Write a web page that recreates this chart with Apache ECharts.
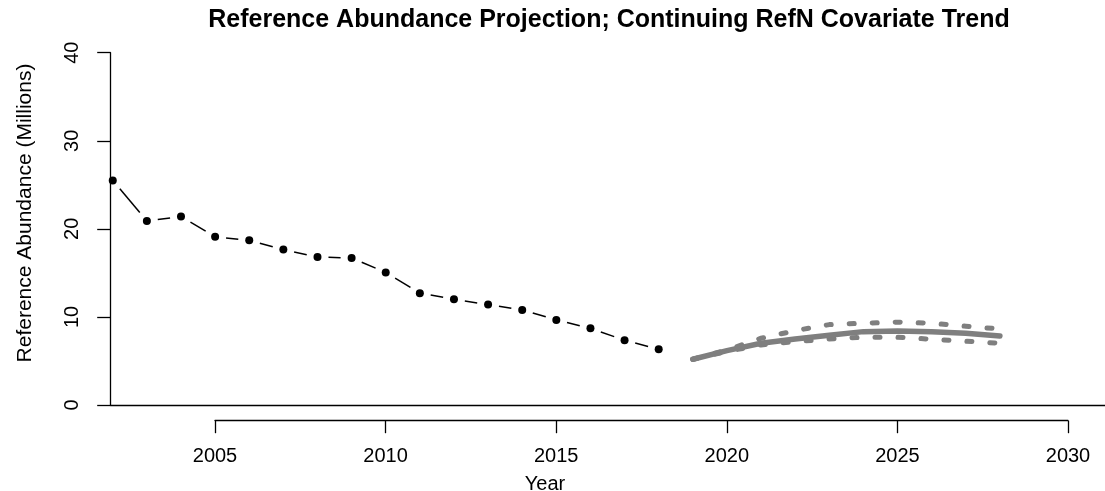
<!DOCTYPE html>
<html>
<head>
<meta charset="utf-8">
<title>Reference Abundance Projection</title>
<script src="https://cdn.jsdelivr.net/npm/echarts@6/dist/echarts.min.js"></script>
<style>
  html, body { margin: 0; padding: 0; background: #fff; }
  #chart { width: 1105px; height: 491px; }
</style>
</head>
<body>
<div id="chart"></div>
<script>
// Observed reference abundance (millions), 2002-2018
const histYears = [2002, 2003, 2004, 2005, 2006, 2007, 2008, 2009, 2010,
                   2011, 2012, 2013, 2014, 2015, 2016, 2017, 2018];
const histValues = [25.5, 20.9, 21.4, 19.1, 18.7, 17.65, 16.8, 16.7, 15.05,
                    12.7, 12.0, 11.4, 10.8, 9.66, 8.7, 7.35, 6.33];

// Projection with continuing RefN covariate trend, 2019-2028
const projYears  = [2019, 2020, 2021, 2022, 2023, 2024, 2025, 2026, 2027, 2028];
const projMedian = [5.19, 6.17, 7.01, 7.50, 7.92, 8.33, 8.41, 8.33, 8.15, 7.84];
const projUpper  = [5.19, 6.25, 7.58, 8.44, 9.13, 9.28, 9.40, 9.28, 8.94, 8.64];
const projLower  = [5.19, 6.08, 6.82, 7.19, 7.50, 7.69, 7.69, 7.47, 7.24, 7.01];

// Axis ticks
const yTicks = [0, 10, 20, 30, 40];
const xTicks = [2005, 2010, 2015, 2020, 2025, 2030];

const FONT = "'Liberation Sans', Arial, Helvetica, sans-serif";
const INK = '#000';
const GREY = '#7f7f7f';

const pairs = (xs, ys) => xs.map((x, i) => [x, ys[i]]);

// Segments between consecutive observations, leaving a gap around each point
const segData = histYears.slice(0, -1).map((y, i) =>
  [y, histValues[i], histYears[i + 1], histValues[i + 1]]);
const GAP = 11;

function renderSegment(params, api) {
  const a = api.coord([api.value(0), api.value(1)]);
  const b = api.coord([api.value(2), api.value(3)]);
  const dx = b[0] - a[0], dy = b[1] - a[1];
  const len = Math.sqrt(dx * dx + dy * dy);
  if (len <= 2 * GAP) return null;
  const ux = dx / len, uy = dy / len;
  return {
    type: 'line',
    shape: {
      x1: a[0] + ux * GAP, y1: a[1] + uy * GAP,
      x2: b[0] - ux * GAP, y2: b[1] - uy * GAP
    },
    style: { stroke: INK, lineWidth: 1.5, fill: null }
  };
}

const chart = echarts.init(document.getElementById('chart'), null, { renderer: 'canvas' });

chart.setOption({
  animation: false,
  backgroundColor: '#fff',
  textStyle: { fontFamily: FONT, color: INK },
  grid: [
    { left: 110.7, right: 0, top: 52.7, height: 352.3 },
    { left: 215, width: 853, top: 419.7, height: 1 }
  ],
  xAxis: [
    {
      gridIndex: 0, type: 'value', min: 2001.94, max: 2031.08,
      axisLine: { show: true, onZero: false, lineStyle: { color: INK, width: 1.3 } },
      axisTick: { show: false }, axisLabel: { show: false }, splitLine: { show: false }
    },
    {
      gridIndex: 1, type: 'value', position: 'bottom',
      min: xTicks[0], max: xTicks[xTicks.length - 1], interval: 5,
      axisLine: { show: true, onZero: false, lineStyle: { color: INK, width: 1.3 } },
      axisTick: { show: true, inside: false, length: 12.5, lineStyle: { color: INK, width: 1.3 } },
      axisLabel: { show: true, margin: 26, fontSize: 20, color: INK, fontFamily: FONT,
                   formatter: v => String(v) },
      splitLine: { show: false }
    }
  ],
  yAxis: [
    {
      gridIndex: 0, type: 'value', min: yTicks[0], max: yTicks[yTicks.length - 1], interval: 10,
      axisLine: { show: true, onZero: false, lineStyle: { color: INK, width: 1.3 } },
      axisTick: { show: true, inside: false, length: 13.5, lineStyle: { color: INK, width: 1.3 } },
      axisLabel: { show: true, rotate: 90, margin: 28, fontSize: 20, color: INK, fontFamily: FONT },
      splitLine: { show: false }
    },
    {
      gridIndex: 1, type: 'value', min: 0, max: 1, show: false
    }
  ],
  series: [
    {
      name: 'Observed segments',
      type: 'custom',
      xAxisIndex: 0, yAxisIndex: 0,
      renderItem: renderSegment,
      encode: { x: [0, 2], y: [1, 3] },
      data: segData,
      z: 2
    },
    {
      name: 'Observed',
      type: 'scatter',
      xAxisIndex: 0, yAxisIndex: 0,
      data: pairs(histYears, histValues),
      symbol: 'circle', symbolSize: 8,
      itemStyle: { color: INK, opacity: 1 },
      z: 3
    },
    {
      name: 'Upper',
      type: 'line',
      xAxisIndex: 0, yAxisIndex: 0,
      data: pairs(projYears, projUpper),
      showSymbol: false, symbol: 'none',
      lineStyle: { color: GREY, width: 5, type: [5, 18], cap: 'round', join: 'round' },
      z: 4
    },
    {
      name: 'Lower',
      type: 'line',
      xAxisIndex: 0, yAxisIndex: 0,
      data: pairs(projYears, projLower),
      showSymbol: false, symbol: 'none',
      lineStyle: { color: GREY, width: 5, type: [5, 18], cap: 'round', join: 'round' },
      z: 4
    },
    {
      name: 'Median',
      type: 'line',
      xAxisIndex: 0, yAxisIndex: 0,
      data: pairs(projYears, projMedian),
      showSymbol: false, symbol: 'none',
      lineStyle: { color: GREY, width: 5.5, cap: 'round', join: 'round' },
      z: 5
    }
  ],
  graphic: [
    {
      type: 'text', x: 609, y: 20,
      style: {
        text: 'Reference Abundance Projection; Continuing RefN Covariate Trend',
        font: 'bold 25px ' + FONT, fill: INK,
        align: 'center', verticalAlign: 'middle'
      }
    },
    {
      type: 'text', x: 545, y: 484,
      style: {
        text: 'Year', font: '20px ' + FONT, fill: INK,
        align: 'center', verticalAlign: 'middle'
      }
    },
    {
      type: 'text', x: 25, y: 213, rotation: Math.PI / 2,
      style: {
        text: 'Reference Abundance (Millions)', font: '21px ' + FONT, fill: INK,
        align: 'center', verticalAlign: 'middle'
      }
    }
  ]
});
</script>
</body>
</html>
